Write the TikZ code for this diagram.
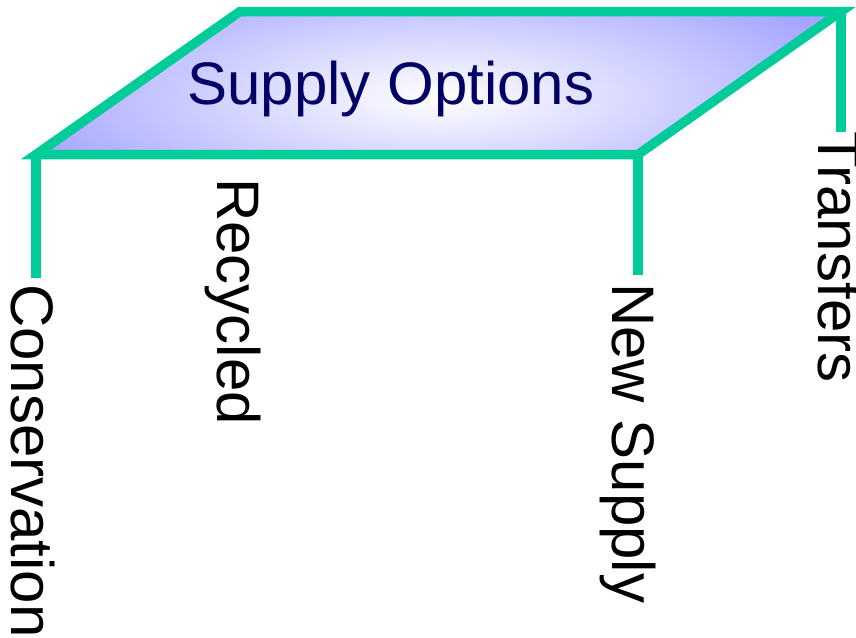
\documentclass[tikz,border=0pt]{standalone}
\usepackage{fontspec}
\setmainfont{Liberation Sans}
\definecolor{rim}{HTML}{00CC99}
\definecolor{lav}{HTML}{9999FF}
\definecolor{navy}{HTML}{000066}
\begin{document}
\begin{tikzpicture}[x=1pt,y=-1pt,
  rimline/.style={draw=rim,line width=9.5pt,line join=miter},
  leg/.style={draw=rim,line width=9.5pt,line cap=butt},
  lbl/.style={font=\fontsize{60}{72}\selectfont,inner sep=0pt,rotate=-90,anchor=base west,text=black}]
\useasboundingbox (0,0) rectangle (856,637);
\coordinate (bl) at (36,154.5);
\coordinate (tl) at (240,11.5);
\coordinate (tr) at (841,11.5);
\coordinate (br) at (638,154.5);
\coordinate (blEnd) at (36,278);
\coordinate (brEnd) at (638,275);
\coordinate (trEnd) at (841,132);
\coordinate (mid) at (440,85);
\begin{scope}
\clip (bl) -- (tl) -- (tr) -- (br) -- cycle;
\fill[lav] (bl) -- (tl) -- (tr) -- (br) -- cycle;
\shade[inner color=white,outer color=lav,rotate around={8:(mid)}] (mid) ellipse [x radius=500,y radius=125];
\end{scope}
\draw[leg] (bl) -- (blEnd);
\draw[leg] (br) -- (brEnd);
\draw[leg] (tr) -- (trEnd);
\draw[rimline] (bl) -- (tl) -- (tr) -- (br) -- cycle;
\node[font=\fontsize{60}{72}\selectfont,text=navy,inner sep=0pt,anchor=base] (title) at (391,104) {Supply Options};
\node[lbl] (cons) at (12,284) {Conservation};
\node[lbl] (rec) at (217,178) {Recycled};
\node[lbl] (new) at (612,283) {New Supply};
\node[lbl] (tra) at (818,131) {Transfers};
\end{tikzpicture}
\end{document}
